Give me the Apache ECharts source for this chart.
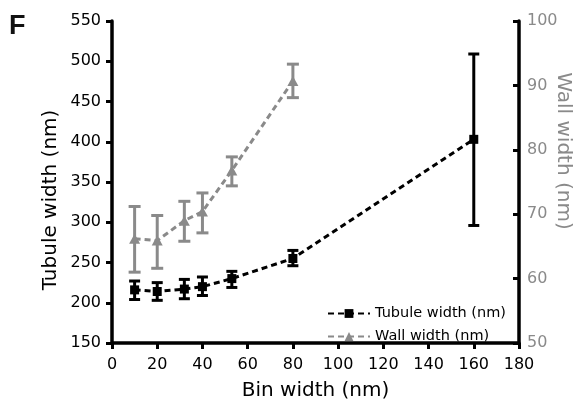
<!DOCTYPE html>
<html>
<head>
<meta charset="utf-8">
<script src="https://cdn.jsdelivr.net/npm/echarts@6/dist/echarts.min.js"></script>
<style>
  html, body { margin: 0; padding: 0; background: #fff; }
  #chart { width: 583px; height: 406px; }
</style>
</head>
<body>
<div id="chart"></div>
<script>
  // bin widths (nm)
  var binWidth = [10, 20, 32, 40, 53, 80, 160];

  // tubule width, left axis (nm)
  var tubuleMean = [216, 214, 217, 220, 230, 255, 403];
  var tubuleLow  = [204, 203, 205, 209, 219, 246, 296];
  var tubuleHigh = [227, 225, 229, 232, 239, 265, 509];

  // wall width, right axis (nm)
  var wallX    = [10, 20, 32, 40, 53, 80];
  var wallMean = [66.2, 65.9, 69.0, 70.4, 76.8, 90.7];
  var wallLow  = [61.0, 61.6, 65.8, 67.1, 74.4, 88.1];
  var wallHigh = [71.2, 69.8, 72.0, 73.3, 78.9, 93.3];

  var leftTicks = { min: 150, max: 550, interval: 50 };
  var rightTicks = { min: 50, max: 100, interval: 10 };
  var xTicks = { min: 0, max: 180, interval: 20 };

  var grey = "#8a8a8a";
  var font = "DejaVu Sans";

  function errBars(color, capW) {
    return function(params, api) {
      var x = api.value(0);
      var lo = api.coord([x, api.value(1)]);
      var hi = api.coord([x, api.value(2)]);
      var st = { stroke: color, lineWidth: 3 };
      return {
        type: "group",
        children: [
          { type: "line", shape: { x1: lo[0], y1: lo[1], x2: hi[0], y2: hi[1] }, style: st },
          { type: "line", shape: { x1: lo[0] - capW / 2, y1: lo[1], x2: lo[0] + capW / 2, y2: lo[1] }, style: st },
          { type: "line", shape: { x1: hi[0] - capW / 2, y1: hi[1], x2: hi[0] + capW / 2, y2: hi[1] }, style: st }
        ]
      };
    };
  }

  var tubulePts = binWidth.map(function(x, i) { return [x, tubuleMean[i]]; });
  var tubuleErr = binWidth.map(function(x, i) { return [x, tubuleLow[i], tubuleHigh[i]]; });
  var wallPts = wallX.map(function(x, i) { return [x, wallMean[i]]; });
  var wallErr = wallX.map(function(x, i) { return [x, wallLow[i], wallHigh[i]]; });

  var axisLine = { show: true, lineStyle: { color: "#000", width: 3.5 } };

  var chart = echarts.init(document.getElementById("chart"));
  var option = {
    animation: false,
    backgroundColor: "#fff",
    grid: { left: 112, right: 64, top: 21, bottom: 57 },
    graphic: [
      { type: "text", left: 9, top: 13, style: { text: "F", font: "bold 27px 'Liberation Sans'", fill: "#111" } },
      { type: "text", x: 51, y: 200, rotation: Math.PI / 2,
        style: { text: "Tubule width (nm)", font: "20px '" + font + "'", fill: "#000", align: "center", verticalAlign: "middle" } },
      { type: "text", x: 563, y: 151, rotation: -Math.PI / 2,
        style: { text: "Wall width (nm)", font: "20px '" + font + "'", fill: grey, align: "center", verticalAlign: "middle" } }
    ],
    legend: {
      orient: "vertical",
      left: 322,
      top: 301,
      itemWidth: 42,
      itemHeight: 11,
      itemGap: 8,
      data: ["Tubule width (nm)", "Wall width (nm)"],
      textStyle: { color: "#000", fontFamily: font, fontSize: 14.5 }
    },
    xAxis: {
      type: "value",
      min: xTicks.min, max: xTicks.max, interval: xTicks.interval,
      name: "Bin width (nm)",
      nameLocation: "middle",
      nameGap: 38,
      nameTextStyle: { color: "#000", fontFamily: font, fontSize: 20 },
      axisLine: axisLine,
      axisTick: { show: true, length: 6, lineStyle: { color: "#000", width: 3 } },
      axisLabel: { color: "#000", fontFamily: font, fontSize: 16, margin: 14 },
      splitLine: { show: false }
    },
    yAxis: [
      {
        type: "value",
        min: leftTicks.min, max: leftTicks.max, interval: leftTicks.interval,
        axisLine: axisLine,
        axisTick: { show: true, length: 6, lineStyle: { color: "#000", width: 3 } },
        axisLabel: { color: "#000", fontFamily: font, fontSize: 16, margin: 11 },
        splitLine: { show: false }
      },
      {
        type: "value",
        position: "right",
        min: rightTicks.min, max: rightTicks.max, interval: rightTicks.interval,
        axisLine: axisLine,
        axisTick: { show: true, inside: true, length: 6, lineStyle: { color: "#000", width: 3 } },
        axisLabel: { color: grey, fontFamily: font, fontSize: 16, margin: 8 },
        splitLine: { show: false }
      }
    ],
    series: [
      {
        name: "wallErr",
        type: "custom",
        yAxisIndex: 1,
        renderItem: errBars(grey, 12),
        data: wallErr,
        z: 2
      },
      {
        name: "Wall width (nm)",
        type: "line",
        yAxisIndex: 1,
        data: wallPts,
        symbol: "triangle",
        symbolSize: [11, 10],
        itemStyle: { color: grey },
        lineStyle: { color: grey, width: 3, type: [6, 4] },
        z: 3
      },
      {
        name: "tubuleErr",
        type: "custom",
        renderItem: errBars("#000", 11),
        data: tubuleErr,
        z: 4
      },
      {
        name: "Tubule width (nm)",
        type: "line",
        data: tubulePts,
        symbol: "rect",
        symbolSize: 9,
        itemStyle: { color: "#000" },
        lineStyle: { color: "#000", width: 3, type: [6, 4] },
        z: 5
      }
    ]
  };
  chart.setOption(option);
</script>
</body>
</html>
